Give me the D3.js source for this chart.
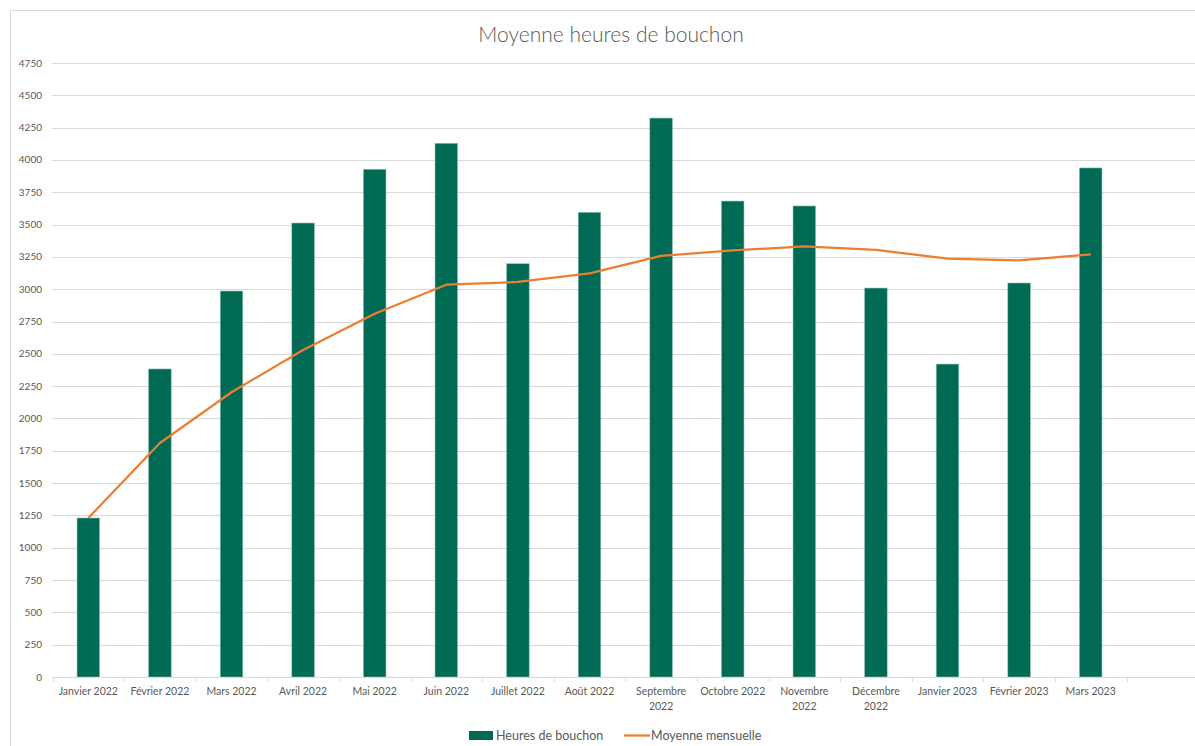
<!DOCTYPE html>
<html>
<head>
<meta charset="utf-8">
<script src="https://cdn.jsdelivr.net/npm/d3@7"></script>
<style>
  html, body { margin: 0; padding: 0; background: #fff; }
  svg { display: block; }
  text { font-family: Lato, "Open Sans", sans-serif; fill: #595959; }
</style>
</head>
<body>
<svg id="chart" width="1195" height="746"></svg>
<script>
const months = [
    "Janvier 2022", "Février 2022", "Mars 2022", "Avril 2022", "Mai 2022",
    "Juin 2022", "Juillet 2022", "Août 2022", "Septembre 2022", "Octobre 2022",
    "Novembre 2022", "Décembre 2022", "Janvier 2023", "Février 2023", "Mars 2023"
];
const heuresBouchon = [1230, 2383, 2986, 3512, 3928, 4129, 3197, 3595, 4324, 3682, 3644, 3009, 2421, 3048, 3938];
const moyenneMensuelle = [1230, 1810, 2203, 2530, 2810, 3035, 3056, 3123, 3258, 3300, 3331, 3305, 3237, 3223, 3270];
const yTicks = d3.range(0, 4751, 250);
// labels Excel wraps on two lines
const wrapped = ["Septembre 2022", "Novembre 2022", "Décembre 2022"];

const W = 1195, H = 746;
const svg = d3.select("#chart");

// chart area border (runs off the right and bottom edges)
svg.append("rect")
    .attr("x", 10.5).attr("y", 10.5)
    .attr("width", W).attr("height", H)
    .style("fill", "none")
    .style("stroke", "#d9d9d9")
    .style("stroke-width", 1);

let x = d3.scaleBand().domain(months).range([52.5, 52.5 + 15 * 71.6]).padding(0);
let y = d3.scaleLinear().domain([0, 4750]).range([677, 63]);
let barW = x.bandwidth() * 0.315;
let cx = d => x(d) + x.bandwidth() / 2;

// gridlines
svg.append("g").selectAll("line")
    .data(yTicks.filter(d => d > 0))
    .enter().append("line")
    .attr("x1", 52).attr("x2", W)
    .attr("y1", d => Math.round(y(d)) + 0.5)
    .attr("y2", d => Math.round(y(d)) + 0.5)
    .style("stroke", "#d9d9d9")
    .style("stroke-width", 1);

// y labels
svg.append("g").selectAll("text")
    .data(yTicks)
    .enter().append("text")
    .attr("x", 42)
    .attr("y", d => y(d) + 3.5)
    .attr("text-anchor", "end")
    .style("font-size", "10px")
    .text(d => d);

// bars
svg.append("g").selectAll("rect")
    .data(heuresBouchon)
    .enter().append("rect")
    .attr("x", (d, i) => cx(months[i]) - barW / 2)
    .attr("y", d => y(d))
    .attr("width", barW)
    .attr("height", d => y(0) - y(d))
    .style("fill", "#006a55")
    .style("stroke", "#8fbfb3")
    .style("stroke-width", 0.6);

// x axis line and ticks at the category boundaries
let axis = svg.append("g");
axis.append("line")
    .attr("x1", 52).attr("x2", W)
    .attr("y1", 677.5).attr("y2", 677.5)
    .style("stroke", "#d9d9d9");
let bounds = months.map(m => x(m)).concat([x.range()[1]]);
axis.selectAll("line.tick")
    .data(bounds)
    .enter().append("line")
    .attr("class", "tick")
    .attr("x1", d => Math.round(d) + 0.5).attr("x2", d => Math.round(d) + 0.5)
    .attr("y1", 677).attr("y2", 682)
    .style("stroke", "#d9d9d9");

let xl = axis.selectAll("text")
    .data(months)
    .enter().append("text")
    .attr("x", d => cx(d))
    .attr("y", 695)
    .attr("text-anchor", "middle")
    .style("font-size", "10.5px");
xl.each(function (d) {
    let t = d3.select(this);
    if (wrapped.includes(d)) {
        let parts = d.split(" ");
        t.append("tspan").attr("x", cx(d)).attr("dy", 0).text(parts[0]);
        t.append("tspan").attr("x", cx(d)).attr("dy", 15).text(parts[1]);
    } else {
        t.text(d);
    }
});

// running average line
let line = d3.line()
    .x((d, i) => cx(months[i]))
    .y(d => y(d));
svg.append("path")
    .datum(moyenneMensuelle)
    .attr("d", line)
    .style("fill", "none")
    .style("stroke", "#ed7d31")
    .style("stroke-width", 2.25)
    .style("stroke-linejoin", "round");

// title
svg.append("text")
    .attr("x", 611)
    .attr("y", 42)
    .attr("text-anchor", "middle")
    .style("font-size", "21px")
    .style("font-weight", 300)
    .text("Moyenne heures de bouchon");

// legend
let legend = svg.append("g");
legend.append("rect")
    .attr("x", 469).attr("y", 731)
    .attr("width", 24).attr("height", 9)
    .style("fill", "#006a55");
legend.append("text")
    .attr("x", 496).attr("y", 740)
    .style("font-size", "12.5px")
    .text("Heures de bouchon");
legend.append("line")
    .attr("x1", 624).attr("x2", 650)
    .attr("y1", 735.5).attr("y2", 735.5)
    .style("stroke", "#ed7d31")
    .style("stroke-width", 2.25);
legend.append("text")
    .attr("x", 651).attr("y", 740)
    .style("font-size", "12.5px")
    .text("Moyenne mensuelle");
</script>
</body>
</html>
